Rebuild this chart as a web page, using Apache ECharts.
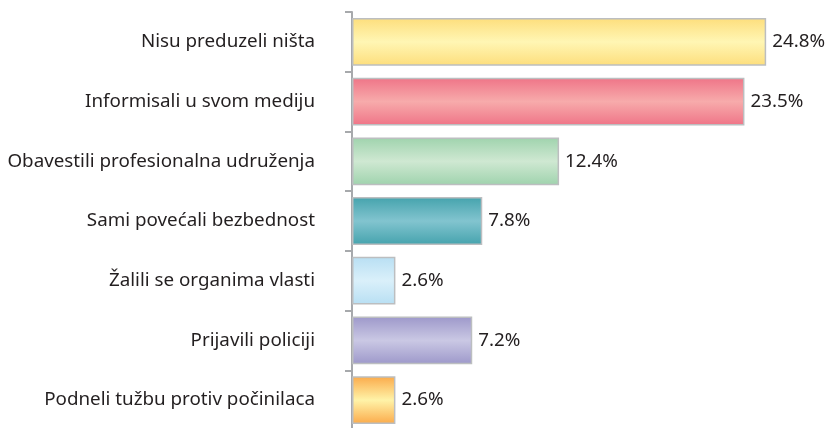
<!DOCTYPE html>
<html>
<head>
<meta charset="utf-8">
<script src="https://cdn.jsdelivr.net/npm/echarts@6/dist/echarts.min.js"></script>
<style>
  html, body { margin: 0; padding: 0; background: #fff; }
  #chart { width: 828px; height: 428px; }
</style>
</head>
<body>
<div id="chart"></div>
<script>
const categories = [
    "Nisu preduzeli ništa",
    "Informisali u svom mediju",
    "Obavestili profesionalna udruženja",
    "Sami povećali bezbednost",
    "Žalili se organima vlasti",
    "Prijavili policiji",
    "Podneli tužbu protiv počinilaca"
];
const values = [24.8, 23.5, 12.4, 7.8, 2.6, 7.2, 2.6];
// edge color, middle color for each bar gradient
const barColors = [
    ["#fdde7c", "#fff6b4"],
    ["#ef7487", "#f7abab"],
    ["#9fd3ad", "#cfe8d2"],
    ["#45a3ad", "#82c4cf"],
    ["#b8dff3", "#daf0fa"],
    ["#9d98ca", "#cac8e4"],
    ["#fbaa4a", "#fff3a8"]
];

function gradient(edge, mid) {
    return new echarts.graphic.LinearGradient(0, 0, 0, 1, [
        { offset: 0, color: edge },
        { offset: 0.5, color: mid },
        { offset: 1, color: edge }
    ]);
}

const chart = echarts.init(document.getElementById("chart"));
chart.setOption({
    animation: false,
    grid: {
        left: 352,
        top: 12,
        width: 501,
        height: 418,
        containLabel: false,
        outerBoundsMode: "none"
    },
    xAxis: {
        type: "value",
        min: 0,
        max: 30,
        show: false
    },
    yAxis: {
        type: "category",
        inverse: true,
        data: categories,
        axisLine: { lineStyle: { color: "#a7a9ac", width: 2 } },
        axisTick: { show: true, length: 7, lineStyle: { color: "#a7a9ac", width: 2 } },
        axisLabel: {
            margin: 37,
            color: "#231f20",
            fontSize: 18.8,
            fontFamily: "Noto Sans"
        }
    },
    series: [
        {
            type: "bar",
            barCategoryGap: "20%",
            data: values.map((v, i) => ({
                value: v,
                itemStyle: { color: gradient(barColors[i][0], barColors[i][1]) }
            })),
            itemStyle: { borderColor: "#bcbec0", borderWidth: 1.5 },
            label: {
                show: true,
                position: "right",
                distance: 6,
                formatter: p => p.value.toFixed(1) + "%",
                color: "#231f20",
                fontSize: 18.8,
                fontFamily: "Noto Sans"
            }
        }
    ]
});
</script>
</body>
</html>
